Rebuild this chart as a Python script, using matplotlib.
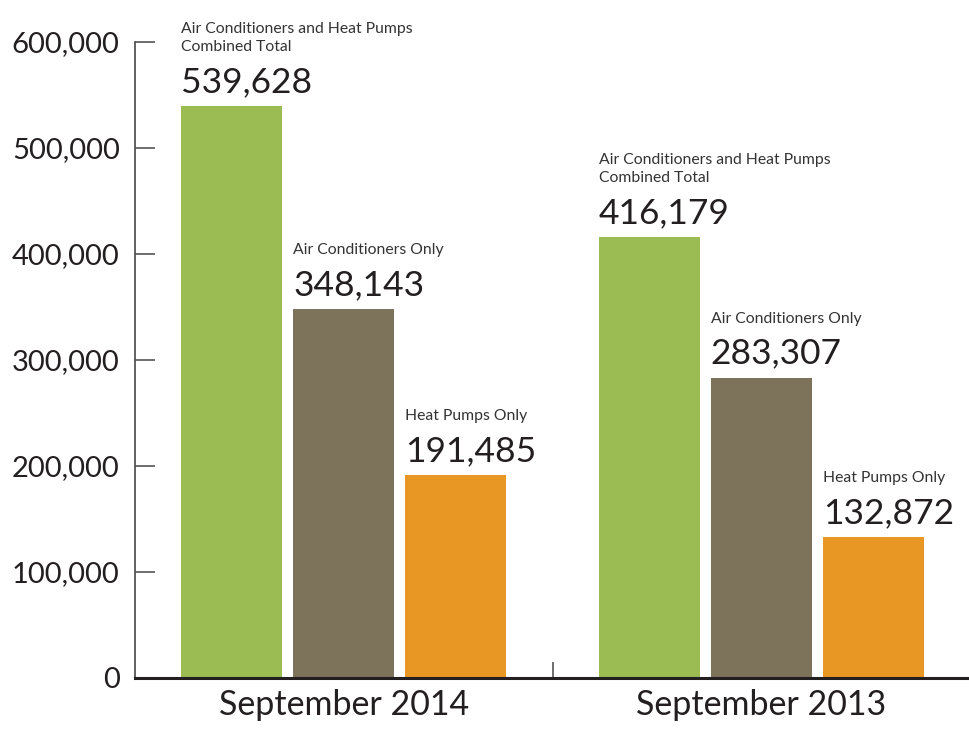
import numpy as np
import matplotlib.pyplot as plt

plt.rcParams['font.family'] = ['Lato', 'DejaVu Sans']

# data
periods = ['September 2014', 'September 2013']
series = ['Air Conditioners and Heat Pumps\nCombined Total',
          'Air Conditioners Only',
          'Heat Pumps Only']
values = [[539628, 348143, 191485],
          [416179, 283307, 132872]]
colors = ['#9BBB53', '#7D735B', '#E89624']
yticks = [0, 100000, 200000, 300000, 400000, 500000, 600000]

txt = '#231F20'
fig = plt.figure(figsize=(9.7, 7.31), dpi=100)
ax = fig.add_axes([135/970, 53/731, 835/970, 636/731])

w = 0.2416
step = 0.268
for g, vals in enumerate(values):
    for i, v in enumerate(vals):
        x = g + (i - 1) * step
        ax.bar(x, v, width=w, color=colors[i], zorder=2)
        left = x - w / 2
        ax.annotate(f'{v:,}', (left, v), xytext=(0, 14), textcoords='offset pixels',
                    ha='left', va='baseline', fontsize=25.5, color=txt)
        lines = series[i].split('\n')
        for k, line in enumerate(reversed(lines)):
            ax.annotate(line, (left, v), xytext=(0, 55 + 18 * k), textcoords='offset pixels',
                        ha='left', va='baseline', fontsize=11.3, color='#333333')

ax.set_xlim(-0.5, 1.5)
ax.set_ylim(0, 600000)
ax.set_yticks(yticks)
ax.set_yticklabels([f'{t:,}' for t in yticks], fontsize=21, color=txt)
ax.tick_params(axis='y', direction='in', length=14.5, width=1.2, color='#555555', pad=11)

ax.set_xticks([0, 1])
ax.set_xticklabels(periods, fontsize=24.5, color=txt)
ax.tick_params(axis='x', which='major', length=0, pad=8)
ax.set_xticks([0.5], minor=True)
ax.tick_params(axis='x', which='minor', direction='in', length=11.5, width=1.2, color='#555555')

for s in ['top', 'right']:
    ax.spines[s].set_visible(False)
ax.spines['left'].set_color('#555555')
ax.spines['left'].set_linewidth(1.3)
ax.spines['bottom'].set_color(txt)
ax.spines['bottom'].set_linewidth(2.2)
ax.spines['bottom'].set_zorder(3)

fig.savefig('out.png', dpi=100)
